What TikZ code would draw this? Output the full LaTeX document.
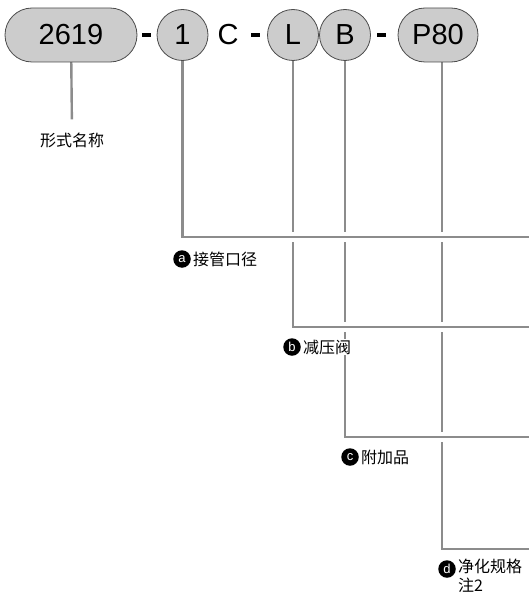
\documentclass[tikz,border=0pt]{standalone}
\usepackage{fontspec}
\setmainfont{Liberation Sans}
\newfontfamily\cjk{Noto Sans CJK SC}
\usetikzlibrary{positioning, backgrounds}

\begin{document}
\begin{tikzpicture}[x=1pt, y=-1pt,
  code/.style={draw=black!70, fill=black!20, line width=0.8pt, inner sep=0pt,
    minimum height=54pt, font=\fontsize{29}{31}\selectfont},
  pill/.style={code, rounded corners=27pt},
  ball/.style={code, circle, minimum size=51pt},
  hyph/.style={fill=black, inner sep=0pt, minimum width=9pt, minimum height=4pt},
  lead/.style={draw=black!45, line width=2.4pt},
  cross/.style={lead, preaction={draw=white, line width=10pt}},
  tag/.style={circle, fill=black, text=white, inner sep=0pt, minimum size=17.5pt,
    font=\fontsize{13}{13}\selectfont},
  lbl/.style={fill=white, inner sep=1pt, font=\cjk\fontsize{16}{19}\selectfont}
]
\useasboundingbox (0,0) rectangle (529,599);

% Model code
\node[pill, minimum width=132pt] (p2619) at (71,35) {2619};
\node[hyph] (h1) at (146,35) {};
\node[ball] (b1) at (182.5,35) {1};
\node[font=\fontsize{29}{31}\selectfont, inner sep=0pt] (cC) at (228,35) {C};
\node[hyph] (h2) at (255.5,35) {};
\node[ball] (bL) at (293,35) {L};
\node[ball] (bB) at (345,35) {B};
\node[hyph] (h3) at (381.5,35) {};
\node[pill, minimum width=80pt] (pP80) at (438,35) {P80};

% Name
\node[lbl] (lname) at (72,140) {形式名称};

% Right ends
\coordinate (ra) at (529,237);
\coordinate (rb) at (529,327);
\coordinate (rc) at (529,437);
\coordinate (rd) at (529,549);

% Leads
\begin{scope}[on background layer]
\draw[lead, shorten >=12pt] (p2619.center) -- (lname.north);
\draw[cross] ([xshift=4pt]pP80.center) |- (rd);
\draw[cross] (bB.center) |- (rc);
\draw[cross] (bL.center) |- (rb);
\draw[cross] (b1.center) |- (ra);
\end{scope}

% Labels
\node[tag] (ta) at (182,259) {a};
\node[lbl, right=1pt of ta] (la) {接管口径};
\node[tag] (tb) at (292,347) {b};
\node[lbl, right=1pt of tb] (lb) {减压阀};
\node[tag] (tc) at (350,457) {c};
\node[lbl, right=1pt of tc] (lc) {附加品};
\node[tag] (td) at (447,569) {d};
\node[lbl, anchor=north west, align=left] (ld) at ([xshift=1pt, yshift=11pt]td.east) {净化规格\\注2};
\end{tikzpicture}
\end{document}
